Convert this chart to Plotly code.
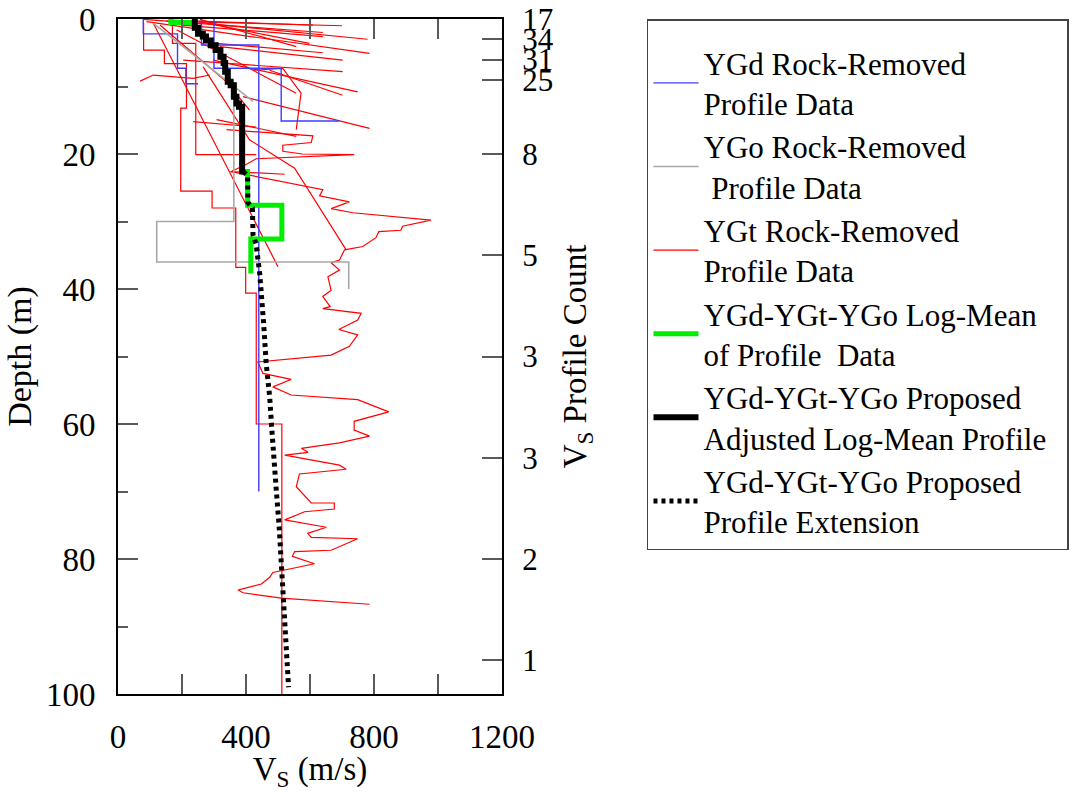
import plotly.graph_objects as go

FONT = "Liberation Serif"

# ---------------- axis ticks ----------------
x_tick_vals = [0, 400, 800, 1200]
y_tick_vals = [0, 20, 40, 60, 80, 100]
count_depths = [0, 3, 6, 9, 20, 35, 50, 65, 80, 95]
count_labels = ["17", "34", "31", "25", "8", "5", "3", "3", "2", "1"]

# ---------------- YGd profiles (step: layer top depth, Vs) ----------------
ygd_1_vs = [79, 186, 212, 250]
ygd_1_d = [0, 2.2, 7.3, 9.6]
ygd_2_vs = [261, 440, 440]
ygd_2_d = [0, 3.85, 70]
ygd_3_vs = [300, 510, 692]
ygd_3_d = [0, 7.3, 15.1]

# ---------------- YGo profiles ----------------
ygo_1_vs = [110, 422]
ygo_1_d = [0.6, 12.2]
ygo_2_vs = [362, 121, 721, 721]
ygo_2_d = [9.5, 30, 36, 40]

# ---------------- YGt profiles ----------------
# step profiles
ygt_s1_vs = [80, 145, 214, 196, 294, 368, 399, 432, 512, 512]
ygt_s1_d = [0.6, 4.6, 6.6, 13.2, 25.5, 28, 36.8, 40.6, 60, 100]
ygt_s2_vs = [170, 243, 432]
ygt_s2_d = [0, 3.6, 20.1]
# point-to-point profiles
ygt_1_vs = [79, 640];            ygt_1_d = [0.05, 2.0]
ygt_2_vs = [89, 786];            ygt_2_d = [0.4, 5.1]
ygt_3_vs = [162, 609];           ygt_3_d = [0.15, 0.9]
ygt_4_vs = [235, 598];           ygt_4_d = [0.25, 3.6]
ygt_5_vs = [256, 557];           ygt_5_d = [0.05, 4.1]
ygt_6_vs = [308, 640];           ygt_6_d = [3.6, 5.0]
ygt_7_vs = [318, 702];           ygt_7_d = [4.1, 6.1]
ygt_8_vs = [204, 702];           ygt_8_d = [6.1, 7.8]
ygt_9_vs = [297, 749];           ygt_9_d = [6.1, 10.8]
ygt_10_vs = [422, 515, 572, 557]; ygt_10_d = [7.6, 7.3, 11.0, 16.4]
ygt_11_vs = [391, 786];          ygt_11_d = [11.5, 16.2]
ygt_12_vs = [69, 110, 235, 287]; ygt_12_d = [9.2, 8.3, 8.8, 8.3]
ygt_13_vs = [235, 432];          ygt_13_d = [15.2, 16.0]
ygt_14_vs = [131, 339, 411];     ygt_14_d = [0.9, 9.3, 13.5]
ygt_15_vs = [183, 557];          ygt_15_d = [1.6, 11.0]
ygt_16_vs = [474, 702];          ygt_16_d = [7.6, 11.3]
ygt_17_vs = [110, 500];          ygt_17_d = [0.6, 36.7]
ygt_18_vs = [266, 411, 552, 713]; ygt_18_d = [7.1, 17.9, 22.1, 34.2]
ygt_19_vs = [351, 521];          ygt_19_d = [22.6, 23.0]
ygt_20_vs = [150, 700];          ygt_20_d = [0.3, 1.0]
ygt_21_vs = [280, 780];          ygt_21_d = [0.7, 3.0]
ygt_22_vs = [200, 640];          ygt_22_d = [0.9, 2.6]
ygt_23_vs = [308, 557];          ygt_23_d = [14.9, 17.4]
ygt_log_vs = [339, 609, 604, 515, 515, 576, 738, 432, 406, 354, 640, 630, 723, 666, 734,
              978, 889, 884, 815, 806, 765, 708, 692, 666, 692, 656, 666, 640, 663, 640,
              760, 749, 690, 749, 723, 666, 437, 453, 541, 484, 541, 749, 846, 765, 738,
              738, 786, 692, 573, 594, 521, 692, 713, 567, 557, 604, 676, 676, 583, 521,
              651, 593, 604, 749, 666, 552, 545, 614, 510, 484, 474, 448, 375, 391, 510, 786]
ygt_log_d = [16.4, 17.3, 18.3, 18.7, 19.6, 20.0, 20.1, 20.7, 21.4, 22.6, 25.3, 26.2, 27.1, 28.1, 28.7,
             29.8, 30.7, 31.3, 31.5, 32.4, 33.7, 34.2, 35.7, 36.1, 37.2, 38.2, 40.2, 41.1, 42.6, 42.9,
             43.6, 44.6, 46.0, 46.8, 48.5, 49.8, 50.8, 52.5, 53.4, 54.5, 55.7, 56.4, 58.2, 59.2, 59.6,
             60.9, 61.8, 62.8, 63.6, 64.2, 64.6, 66.1, 66.7, 67.4, 69.3, 71.7, 71.7, 72.6, 73.0, 74.2,
             75.3, 76.2, 76.8, 77.0, 78.7, 78.9, 79.6, 80.7, 81.7, 82.0, 82.7, 83.7, 84.6, 85.0, 85.8, 86.7]

# ---------------- Log-mean (green) & adjusted (black) ----------------
mean_vs = [165, 240, 250, 265, 275, 290, 305, 320, 330, 335, 343, 352, 362, 370, 378, 388,
           405, 512, 415, 415]
mean_d = [0, 0.5, 1.3, 2.2, 2.6, 3.2, 3.9, 4.6, 5.6, 6.5, 7.8, 9.3, 9.8, 11.5, 12.5, 13.0,
          22.6, 27.6, 32.6, 37.7]
adj_vs = [240, 250, 265, 275, 290, 305, 320, 330, 335, 343, 352, 362, 370, 378, 388, 391]
adj_d = [0, 1.3, 2.2, 2.6, 3.2, 3.9, 4.6, 5.6, 6.5, 7.8, 9.3, 9.8, 11.5, 12.5, 13.0, 22.6]
ext_vs = [391, 405, 406, 420, 422, 432, 443, 447, 455, 463, 474, 481, 487, 495, 504, 510, 515,
          523, 528, 533]
ext_d = [22.6, 23.2, 27.2, 28.0, 32.0, 33.5, 37.8, 40, 45, 51, 56, 61, 66, 70, 75.5, 80.5, 85.5,
         90.5, 95.4, 99]

RED = "#ff0000"
BLUE = "#3c3cff"
GRAY = "#a8a8a8"
GREEN = "#00ee00"

fig = go.Figure()


def add(vs, d, color, width, group, name=None, shape="linear", show=False, rank=None, dash=None):
    fig.add_trace(go.Scatter(
        x=vs, y=d, mode="lines",
        line=dict(color=color, width=width, shape=shape, dash=dash),
        name=name, legendgroup=group, showlegend=show,
        legendrank=rank if rank is not None else 1000,
        hoverinfo="skip"))


ygt_lines = [
    (ygt_1_vs, ygt_1_d), (ygt_2_vs, ygt_2_d), (ygt_3_vs, ygt_3_d), (ygt_4_vs, ygt_4_d),
    (ygt_5_vs, ygt_5_d), (ygt_6_vs, ygt_6_d), (ygt_7_vs, ygt_7_d), (ygt_8_vs, ygt_8_d),
    (ygt_9_vs, ygt_9_d), (ygt_10_vs, ygt_10_d), (ygt_11_vs, ygt_11_d), (ygt_12_vs, ygt_12_d),
    (ygt_13_vs, ygt_13_d), (ygt_14_vs, ygt_14_d), (ygt_15_vs, ygt_15_d), (ygt_16_vs, ygt_16_d),
    (ygt_17_vs, ygt_17_d), (ygt_18_vs, ygt_18_d), (ygt_19_vs, ygt_19_d), (ygt_20_vs, ygt_20_d),
    (ygt_21_vs, ygt_21_d), (ygt_22_vs, ygt_22_d), (ygt_23_vs, ygt_23_d), (ygt_log_vs, ygt_log_d),
]

# YGt (red)
add(ygt_s1_vs, ygt_s1_d, RED, 1.2, "ygt", "YGt Rock-Removed<br>Profile Data", "vh", True, 3)
add(ygt_s2_vs, ygt_s2_d, RED, 1.2, "ygt", shape="vh")
for vs, d in ygt_lines:
    add(vs, d, RED, 1.2, "ygt")

# YGd (blue)
add(ygd_1_vs, ygd_1_d, BLUE, 1.4, "ygd", "YGd Rock-Removed<br>Profile Data", "vh", True, 1)
add(ygd_2_vs, ygd_2_d, BLUE, 1.4, "ygd", shape="vh")
add(ygd_3_vs, ygd_3_d, BLUE, 1.4, "ygd", shape="vh")

# YGo (gray)
add(ygo_1_vs, ygo_1_d, GRAY, 1.6, "ygo", "YGo Rock-Removed<br>\u00a0Profile Data", "linear", True, 2)
add(ygo_2_vs, ygo_2_d, GRAY, 1.6, "ygo", shape="vh")

# Log-mean (green), adjusted (black), extension (dots)
add(mean_vs, mean_d, GREEN, 5, "mean", "YGd-YGt-YGo Log-Mean<br>of Profile\u00a0 Data", "vh", True, 4)
add(adj_vs, adj_d, "black", 6, "adj",
    "YGd-YGt-YGo Proposed<br>Adjusted Log-Mean Profile\u00a0\u00a0", "vh", True, 5)
add(ext_vs, ext_d, "black", 5, "ext", "YGd-YGt-YGo Proposed<br>Profile Extension", "linear", True, 6,
    dash="4px,4px")

# dummy trace to activate right-hand count axis
fig.add_trace(go.Scatter(x=[None], y=[None], yaxis="y2", showlegend=False, hoverinfo="skip"))

TICKC = "#5a5a5a"
fig.update_layout(
    width=1079, height=792,
    margin=dict(l=118, r=576, t=19, b=98),
    paper_bgcolor="white", plot_bgcolor="white",
    font=dict(family=FONT, size=32, color="black"),
    xaxis=dict(
        range=[0, 1200], tickvals=x_tick_vals, ticks="inside", ticklen=20, tickwidth=2,
        tickcolor=TICKC, showline=True, linecolor="black", linewidth=2, mirror="allticks",
        showgrid=False, zeroline=False, automargin=False, ticklabelstandoff=12,
        minor=dict(dtick=200, tick0=0, ticks="inside", ticklen=10, tickwidth=2, tickcolor=TICKC,
                   showgrid=False),
        title=dict(text="V<sub>S</sub> (m/s)", font=dict(size=33), standoff=8),
        tickfont=dict(size=33),
    ),
    yaxis=dict(
        range=[100, 0], tickvals=y_tick_vals, ticks="inside", ticklen=20, tickwidth=2,
        tickcolor=TICKC, showline=True, linecolor="black", linewidth=2, mirror=False,
        showgrid=False, zeroline=False, automargin=False, ticklabelstandoff=14,
        minor=dict(dtick=10, tick0=0, ticks="inside", ticklen=10, tickwidth=2, tickcolor=TICKC,
                   showgrid=False),
        title=dict(text="Depth (m)", font=dict(size=34), standoff=4),
        tickfont=dict(size=33),
    ),
    yaxis2=dict(
        range=[100, 0], overlaying="y", side="right", anchor="x",
        tickmode="array", tickvals=count_depths, ticktext=count_labels,
        ticks="inside", ticklen=20, tickwidth=2, tickcolor=TICKC,
        showline=True, linecolor="black", linewidth=2, showgrid=False, zeroline=False,
        automargin=False, ticklabelstandoff=12,
        title=dict(text="V<sub>S</sub> Profile Count", font=dict(size=33), standoff=10),
        tickfont=dict(size=31),
    ),
    legend=dict(
        x=1.374, y=1.0, xanchor="left", yanchor="top",
        font=dict(family=FONT, size=31, color="black"),
        bgcolor="white", bordercolor="#444", borderwidth=1.5,
        tracegroupgap=0, itemwidth=45,
        title=dict(text="\u00a0", font=dict(size=12)),
    ),
    showlegend=True,
)

fig.write_html("out.html")
